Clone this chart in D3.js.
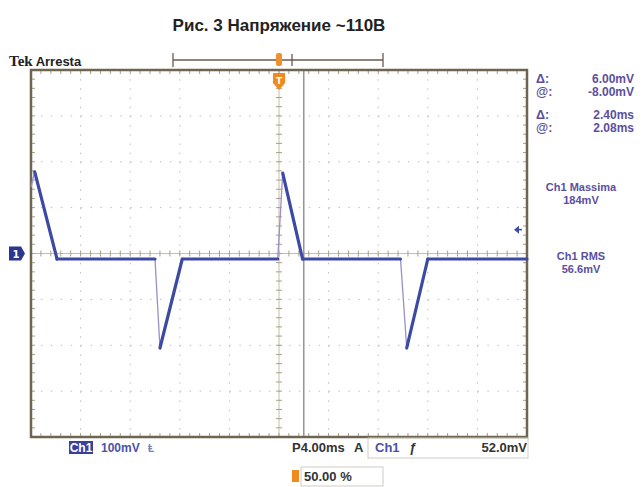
<!DOCTYPE html>
<html><head><meta charset="utf-8">
<script src="https://cdn.jsdelivr.net/npm/d3@7"></script>
<style>body{margin:0;background:#fff}svg{display:block}</style>
</head><body>
<svg id="c" width="643" height="487"></svg>
<script>
// ---- data ----
const titleText = "Рис. 3 Напряжение ~110В";
const times  = [-20, -19.7, -17.9, -10.0, -9.6, -7.8, -0.1, 0.3, 1.9, 9.8, 10.3, 12.0, 20];   // ms
const values = [145, 178, -12, -12, -206, -12, -12, 175, -12, -12, -206, -12, -12];          // mV
const fastEdge = [true, false, false, true, false, false, true, false, false, true, false, false];
const cursorTime = 2.0;        // ms
const triggerLevel = 52;       // mV
const readoutLines = [["Δ:", "6.00mV"], ["@:", "-8.00mV"], ["Δ:", "2.40ms"], ["@:", "2.08ms"]];
const measures = [["Ch1 Massima", "184mV"], ["Ch1 RMS", "56.6mV"]];
const xDivs = d3.range(-20, 20.01, 4);
const yDivs = d3.range(-400, 400.01, 100);

const svg = d3.select("#c");
const x = d3.scaleLinear().domain([-20, 20]).range([31, 527]);
const y = d3.scaleLinear().domain([-400, 400]).range([437, 70]);
const blue = "#3c4aa6", purple = "#5b4f9e", frameC = "#6e6450";

// title
svg.append("text").attr("x", 279).attr("y", 31).attr("text-anchor", "middle")
  .attr("font-family", "Liberation Sans, Arial, sans-serif").attr("font-weight", "bold")
  .attr("font-size", 17).attr("fill", "#222").text(titleText);

// Tek Arresta
const tk = svg.append("text").attr("x", 9).attr("y", 66).attr("font-size", 13).attr("fill", "#222");
tk.append("tspan").attr("font-weight", "bold").attr("font-family", "Liberation Serif, serif").attr("font-size", 15).text("Tek");
tk.append("tspan").attr("dx", 3).attr("font-family", "Liberation Sans, sans-serif").attr("font-weight", "bold").text("Arresta");

// record bar
const bar = svg.append("g").attr("stroke", "#6b5a4a").attr("stroke-width", 1.3);
bar.append("line").attr("x1", 173).attr("x2", 383).attr("y1", 60).attr("y2", 60);
bar.append("line").attr("x1", 173).attr("x2", 173).attr("y1", 53).attr("y2", 67);
bar.append("line").attr("x1", 383).attr("x2", 383).attr("y1", 53).attr("y2", 67);
bar.append("line").attr("x1", 292).attr("x2", 292).attr("y1", 54).attr("y2", 66).attr("stroke", "#7a4a60");
svg.append("rect").attr("x", 276).attr("y", 53).attr("width", 6).attr("height", 13).attr("rx", 2).attr("fill", "#f0902a");

// grid
const grid = svg.append("g");
xDivs.forEach(t => {
  if (t > -20 && t < 20 && t !== 0)
    grid.append("line").attr("x1", x(t)).attr("x2", x(t)).attr("y1", y(400)).attr("y2", y(-400))
      .attr("stroke", "#bdbdbd").attr("stroke-width", 1).attr("stroke-dasharray", "1.5,7.68");
});
yDivs.forEach(v => {
  if (v > -400 && v < 400 && v !== 0)
    grid.append("line").attr("x1", x(-20)).attr("x2", x(20)).attr("y1", y(v)).attr("y2", y(v))
      .attr("stroke", "#bdbdbd").attr("stroke-width", 1).attr("stroke-dasharray", "1.5,8.42");
});
// center axes with minor ticks
grid.append("line").attr("x1", x(-20)).attr("x2", x(20)).attr("y1", y(0)).attr("y2", y(0)).attr("stroke", "#c8bfa0").attr("stroke-width", 1);
grid.append("line").attr("x1", x(0)).attr("x2", x(0)).attr("y1", y(400)).attr("y2", y(-400)).attr("stroke", "#c8bfa0").attr("stroke-width", 1);
d3.range(-20, 20.01, 0.8).forEach(t => {
  grid.append("line").attr("x1", x(t)).attr("x2", x(t)).attr("y1", y(0) - 3).attr("y2", y(0) + 3).attr("stroke", "#a89f88");
  grid.append("line").attr("x1", x(t)).attr("x2", x(t)).attr("y1", y(400)).attr("y2", y(400) + 4).attr("stroke", "#a89f88");
  grid.append("line").attr("x1", x(t)).attr("x2", x(t)).attr("y1", y(-400)).attr("y2", y(-400) - 4).attr("stroke", "#a89f88");
});
d3.range(-400, 400.01, 20).forEach(v => {
  grid.append("line").attr("x1", x(0) - 3).attr("x2", x(0) + 3).attr("y1", y(v)).attr("y2", y(v)).attr("stroke", "#a89f88");
  grid.append("line").attr("x1", x(-20)).attr("x2", x(-20) + 4).attr("y1", y(v)).attr("y2", y(v)).attr("stroke", "#a89f88");
  grid.append("line").attr("x1", x(20)).attr("x2", x(20) - 4).attr("y1", y(v)).attr("y2", y(v)).attr("stroke", "#a89f88");
});

// cursor
svg.append("line").attr("x1", x(cursorTime)).attr("x2", x(cursorTime)).attr("y1", y(400)).attr("y2", y(-400))
  .attr("stroke", "#8a7f80").attr("stroke-width", 1.3);

// frame
svg.append("rect").attr("x", x(-20)).attr("y", y(400)).attr("width", x(20) - x(-20)).attr("height", y(-400) - y(400))
  .attr("fill", "none").attr("stroke", frameC).attr("stroke-width", 2.5);

// trigger position marker
svg.append("path").attr("d", `M${x(0)-6},${y(400)+3} h12 v10 l-6,7 l-6,-7 z`).attr("fill", "#f08a1e");
svg.append("text").attr("x", x(0)).attr("y", y(400) + 14).attr("text-anchor", "middle")
  .attr("font-family", "DejaVu Sans, sans-serif").attr("font-size", 9).attr("font-weight", "bold").attr("fill", "#fff").text("T");

// trace
const pts = times.map((t, i) => [x(t), y(values[i])]);
const line = d3.line();
svg.append("path").attr("d", line(pts)).attr("fill", "none").attr("stroke", "#9a8fc8").attr("stroke-width", 1.3);
const thick = svg.append("g");
for (let i = 0; i < pts.length - 1; i++) {
  if (!fastEdge[i])
    thick.append("path").attr("d", line([pts[i], pts[i + 1]])).attr("fill", "none")
      .attr("stroke", blue).attr("stroke-width", 3.2).attr("stroke-linecap", "round");
}

// ground marker "1"
svg.append("path").attr("d", `M9,${y(0)-7} h12 l4,7 l-4,7 h-12 z`).attr("fill", "#2c3590");
svg.append("text").attr("x", 16).attr("y", y(0) + 4).attr("text-anchor", "middle")
  .attr("font-family", "DejaVu Sans, sans-serif").attr("font-size", 10).attr("font-weight", "bold").attr("fill", "#fff").text("1");

// trigger level arrow
svg.append("path").attr("d", `M${x(20)-13},${y(triggerLevel)} l5,-4 v8 z`).attr("fill", blue);
svg.append("line").attr("x1", x(20) - 9).attr("x2", x(20) - 5).attr("y1", y(triggerLevel)).attr("y2", y(triggerLevel)).attr("stroke", blue).attr("stroke-width", 1.5);

// readouts
const ro = svg.append("g").attr("font-family", "Liberation Sans, Arial, sans-serif").attr("font-weight", "bold")
  .attr("font-size", 11.5).attr("fill", purple);
const roY = [83, 96, 119, 132];
readoutLines.forEach((r, i) => {
  ro.append("text").attr("x", 536).attr("y", roY[i]).attr("font-size", 12.5).text(r[0]);
  ro.append("text").attr("x", 634).attr("y", roY[i]).attr("text-anchor", "end").attr("font-size", 12).text(r[1]);
});
const mY = [191, 260];
measures.forEach((m, i) => {
  ro.append("text").attr("x", 581).attr("y", mY[i]).attr("text-anchor", "middle").attr("font-size", 11).text(m[0]);
  ro.append("text").attr("x", 581).attr("y", mY[i] + 13).attr("text-anchor", "middle").attr("font-size", 11).text(m[1]);
});

// bottom status
const st = svg.append("g").attr("font-family", "Liberation Sans, Arial, sans-serif").attr("font-weight", "bold").attr("font-size", 13);
st.append("rect").attr("x", 69).attr("y", 441).attr("width", 24).attr("height", 13).attr("fill", "#3a3f9a");
st.append("text").attr("x", 81).attr("y", 452).attr("text-anchor", "middle").attr("font-size", 12).attr("fill", "#fff").text("Ch1");
st.append("text").attr("x", 101).attr("y", 452).attr("font-size", 12).attr("fill", "#4a52aa").text("100mV");
st.append("text").attr("x", 148).attr("y", 452).attr("font-size", 10).attr("fill", "#7a80b8").text("Ⱡ");
st.append("text").attr("x", 292).attr("y", 452).attr("fill", "#333").text("P4.00ms");
st.append("text").attr("x", 354).attr("y", 452).attr("fill", "#333").text("A");
st.append("rect").attr("x", 368).attr("y", 438).attr("width", 160).attr("height", 20).attr("fill", "none").attr("stroke", "#d0ccc4");
st.append("text").attr("x", 375).attr("y", 452).attr("fill", "#4a52aa").text("Ch1");
st.append("text").attr("x", 409).attr("y", 452).attr("fill", "#333").attr("font-style", "italic").text("ƒ");
st.append("text").attr("x", 527).attr("y", 452).attr("text-anchor", "end").attr("fill", "#333").text("52.0mV");

// bottom trigger position
st.append("rect").attr("x", 292).attr("y", 470).attr("width", 7).attr("height", 12).attr("fill", "#f08a1e");
st.append("rect").attr("x", 301).attr("y", 467).attr("width", 82).attr("height", 19).attr("fill", "none").attr("stroke", "#d0ccc4");
st.append("text").attr("x", 304).attr("y", 481).attr("fill", "#333").text("50.00 %");
</script>
</body></html>
